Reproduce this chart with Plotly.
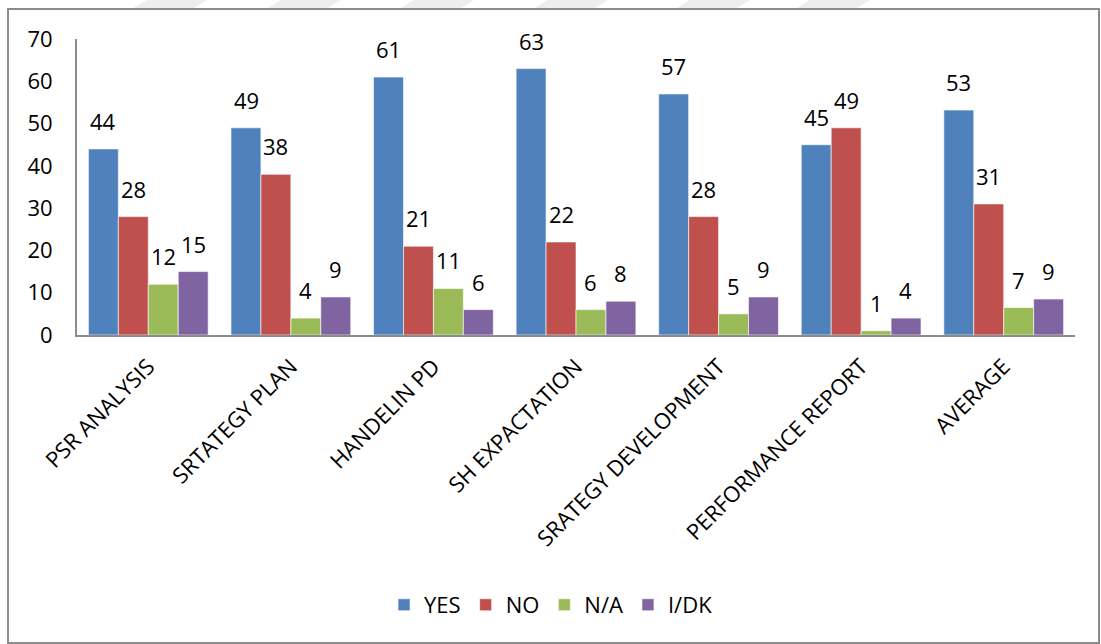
import plotly.graph_objects as go

categories = ["PSR ANALYSIS", "SRTATEGY PLAN", "HANDELIN PD", "SH EXPACTATION",
              "SRATEGY DEVELOPMENT", "PERFORMANCE REPORT", "AVERAGE"]
yes_vals = [44, 49, 61, 63, 57, 45, 53.2]
no_vals = [28, 38, 21, 22, 28, 49, 31]
na_vals = [12, 4, 11, 6, 5, 1, 6.5]
idk_vals = [15, 9, 6, 8, 9, 4, 8.5]
yes_lbl = ["44", "49", "61", "63", "57", "45", "53"]
no_lbl = ["28", "38", "21", "22", "28", "49", "31"]
na_lbl = ["12", "4", "11", "6", "5", "1", "7"]
idk_lbl = ["15", "9", "6", "8", "9", "4", "9"]
y_ticks = [0, 10, 20, 30, 40, 50, 60, 70]

series = [("YES", yes_vals, yes_lbl, "#4F81BD"),
          ("NO", no_vals, no_lbl, "#C0504D"),
          ("N/A", na_vals, na_lbl, "#9BBB59"),
          ("I/DK", idk_vals, idk_lbl, "#8064A2")]

font = "Open Sans"
fig = go.Figure()
annotations = []
bar_px = 29.9
for i, (name, vals, lbl, col) in enumerate(series):
    fig.add_trace(go.Bar(
        name=name, x=categories, y=vals,
        marker=dict(color=col, line=dict(color="rgba(255,255,255,0.6)", width=1)),
        cliponaxis=False,
    ))
    offset = (i - 1.5) * bar_px
    for c, v, t in zip(categories, vals, lbl):
        annotations.append(dict(x=c, y=v, text=t, xref="x", yref="y", showarrow=False,
                                xanchor="center", yanchor="bottom", xshift=offset, yshift=11,
                                font=dict(family=font, size=22, color="black")))

# faint watermark bands and outer border
shapes = []
for x0 in [147, 281, 414, 548, 690, 810]:
    shapes.append(dict(type="path", xref="paper", yref="paper",
                       path=f"M {(x0-77)/998} {(335-0)/296} L {(x0+60-77)/998} {(335-0)/296} "
                            f"L {(x0+45-77)/998} {(335-9)/296} L {(x0-15-77)/998} {(335-9)/296} Z",
                       fillcolor="#eeeeee", line=dict(width=0), layer="below"))
shapes.append(dict(type="rect", xref="paper", yref="paper",
                   x0=(8-77)/998, x1=(1099-77)/998, y0=(335-643)/296, y1=(335-9)/296,
                   line=dict(color="#8c8c8c", width=2), fillcolor="rgba(0,0,0,0)"))

fig.update_layout(
    width=1101, height=644,
    margin=dict(l=77, r=26, t=39, b=309),
    paper_bgcolor="white", plot_bgcolor="white",
    barmode="group", bargap=0.16, bargroupgap=0,
    font=dict(family=font, size=22, color="black"),
    showlegend=True,
    legend=dict(orientation="h", x=0.475, xanchor="center", y=-0.912, yanchor="middle",
                font=dict(family=font, size=22, color="black"), itemwidth=30,
                traceorder="normal"),
    shapes=shapes,
    annotations=annotations,
)
fig.update_xaxes(showline=True, linecolor="#8c8c8c", linewidth=2, ticks="",
                 tickangle=-45, tickfont=dict(family=font, size=22, color="black"),
                 showgrid=False, ticklabelstandoff=8)
fig.update_yaxes(range=[0, 70], tickvals=y_ticks, showline=True, linecolor="#8c8c8c",
                 linewidth=2, showgrid=False, zeroline=False, ticks="", ticklen=0,
                 ticklabelstandoff=18,
                 tickfont=dict(family=font, size=22, color="black"))

fig.write_html("out.html")
